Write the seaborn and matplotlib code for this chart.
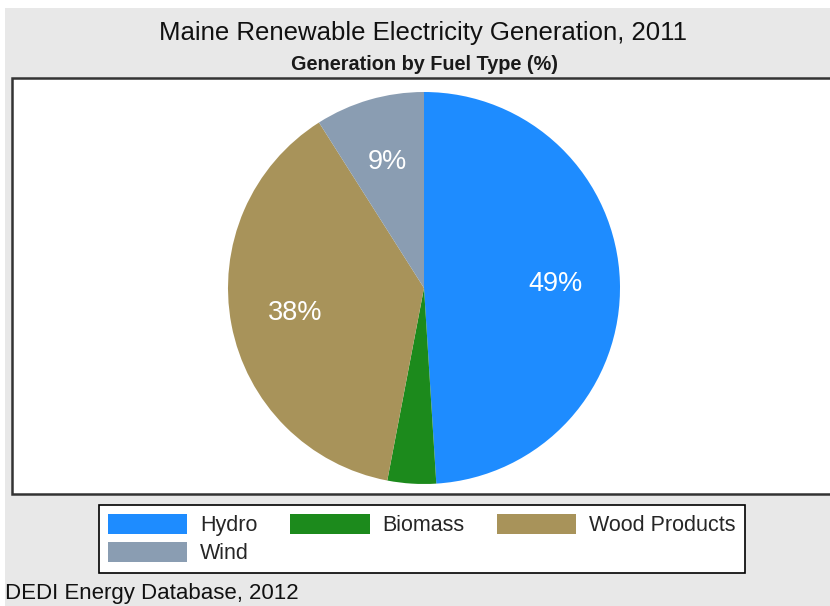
import matplotlib
matplotlib.use("Agg")
import matplotlib.pyplot as plt
from matplotlib.patches import Rectangle, Patch
import seaborn as sns

# Data
fuel_types = ["Hydro", "Biomass", "Wood Products", "Wind"]
shares = [49, 4, 38, 9]
colors = ["#1E8CFF", "#1C8A1C", "#A8935A", "#8A9DB2"]

title = "Maine Renewable Electricity Generation, 2011"
subtitle = "Generation by Fuel Type (%)"
source = "DEDI Energy Database, 2012"

sns.set_theme(style="white")
plt.rcParams["font.family"] = ["Liberation Sans", "DejaVu Sans"]

W, H = 830, 606
fig = plt.figure(figsize=(W / 100, H / 100), dpi=100, facecolor="white")

def fx(px):
    return px / W

def fy(py):
    return 1 - py / H

# gray panel
fig.patches.append(Rectangle((fx(5), 0), 1, fy(8), transform=fig.transFigure,
                             facecolor="#E8E8E8", edgecolor="none", zorder=0))
# white plot area with dark border
fig.patches.append(Rectangle((fx(12), fy(494)), fx(830), (494 - 78) / H,
                             transform=fig.transFigure, facecolor="white",
                             edgecolor="#333333", linewidth=1.8, zorder=1))

ax = fig.add_axes([fx(228), fy(484), 392 / W, 392 / H])
ax.set_zorder(5)
ax.patch.set_alpha(0)
wedges, texts, autotexts = ax.pie(
    shares, colors=colors, startangle=90, counterclock=False,
    autopct="%1.0f%%", pctdistance=0.67,
    wedgeprops=dict(linewidth=0),
    textprops=dict(color="white", fontsize=19.5),
)
for i, t in enumerate(autotexts):
    if shares[i] < 5:
        t.set_visible(False)
ax.set_xlim(-1, 1)
ax.set_ylim(-1, 1)
ax.set_axis_off()

fig.text(fx(423), fy(33), title, ha="center", va="center", fontsize=18.5, color="#111111")
fig.text(fx(424), fy(64), subtitle, ha="center", va="center", fontsize=14.3,
         fontweight="bold", color="#1a1a1a")
fig.text(fx(5), fy(593), source, ha="left", va="center", fontsize=16, color="#111111")

# legend laid out row-wise (matplotlib fills column-wise)
order = [0, 3, 1, 2]
handles = [Patch(facecolor=colors[i], edgecolor="none", label=fuel_types[i]) for i in order]
leg = fig.legend(handles=handles, ncol=3, loc="upper left",
                 bbox_to_anchor=(fx(99), fy(505)), bbox_transform=fig.transFigure,
                 borderaxespad=0, fontsize=15.5, frameon=True, fancybox=False,
                 handlelength=3.7, handleheight=1.1, handletextpad=0.6,
                 columnspacing=1.5, labelspacing=0.25, borderpad=0.4)
leg.set_zorder(6)
leg.get_frame().set_edgecolor("black")
leg.get_frame().set_linewidth(1.2)
leg.get_frame().set_facecolor("white")
leg.get_frame().set_alpha(1)

fig.savefig("out.png", dpi=100, facecolor="white")
